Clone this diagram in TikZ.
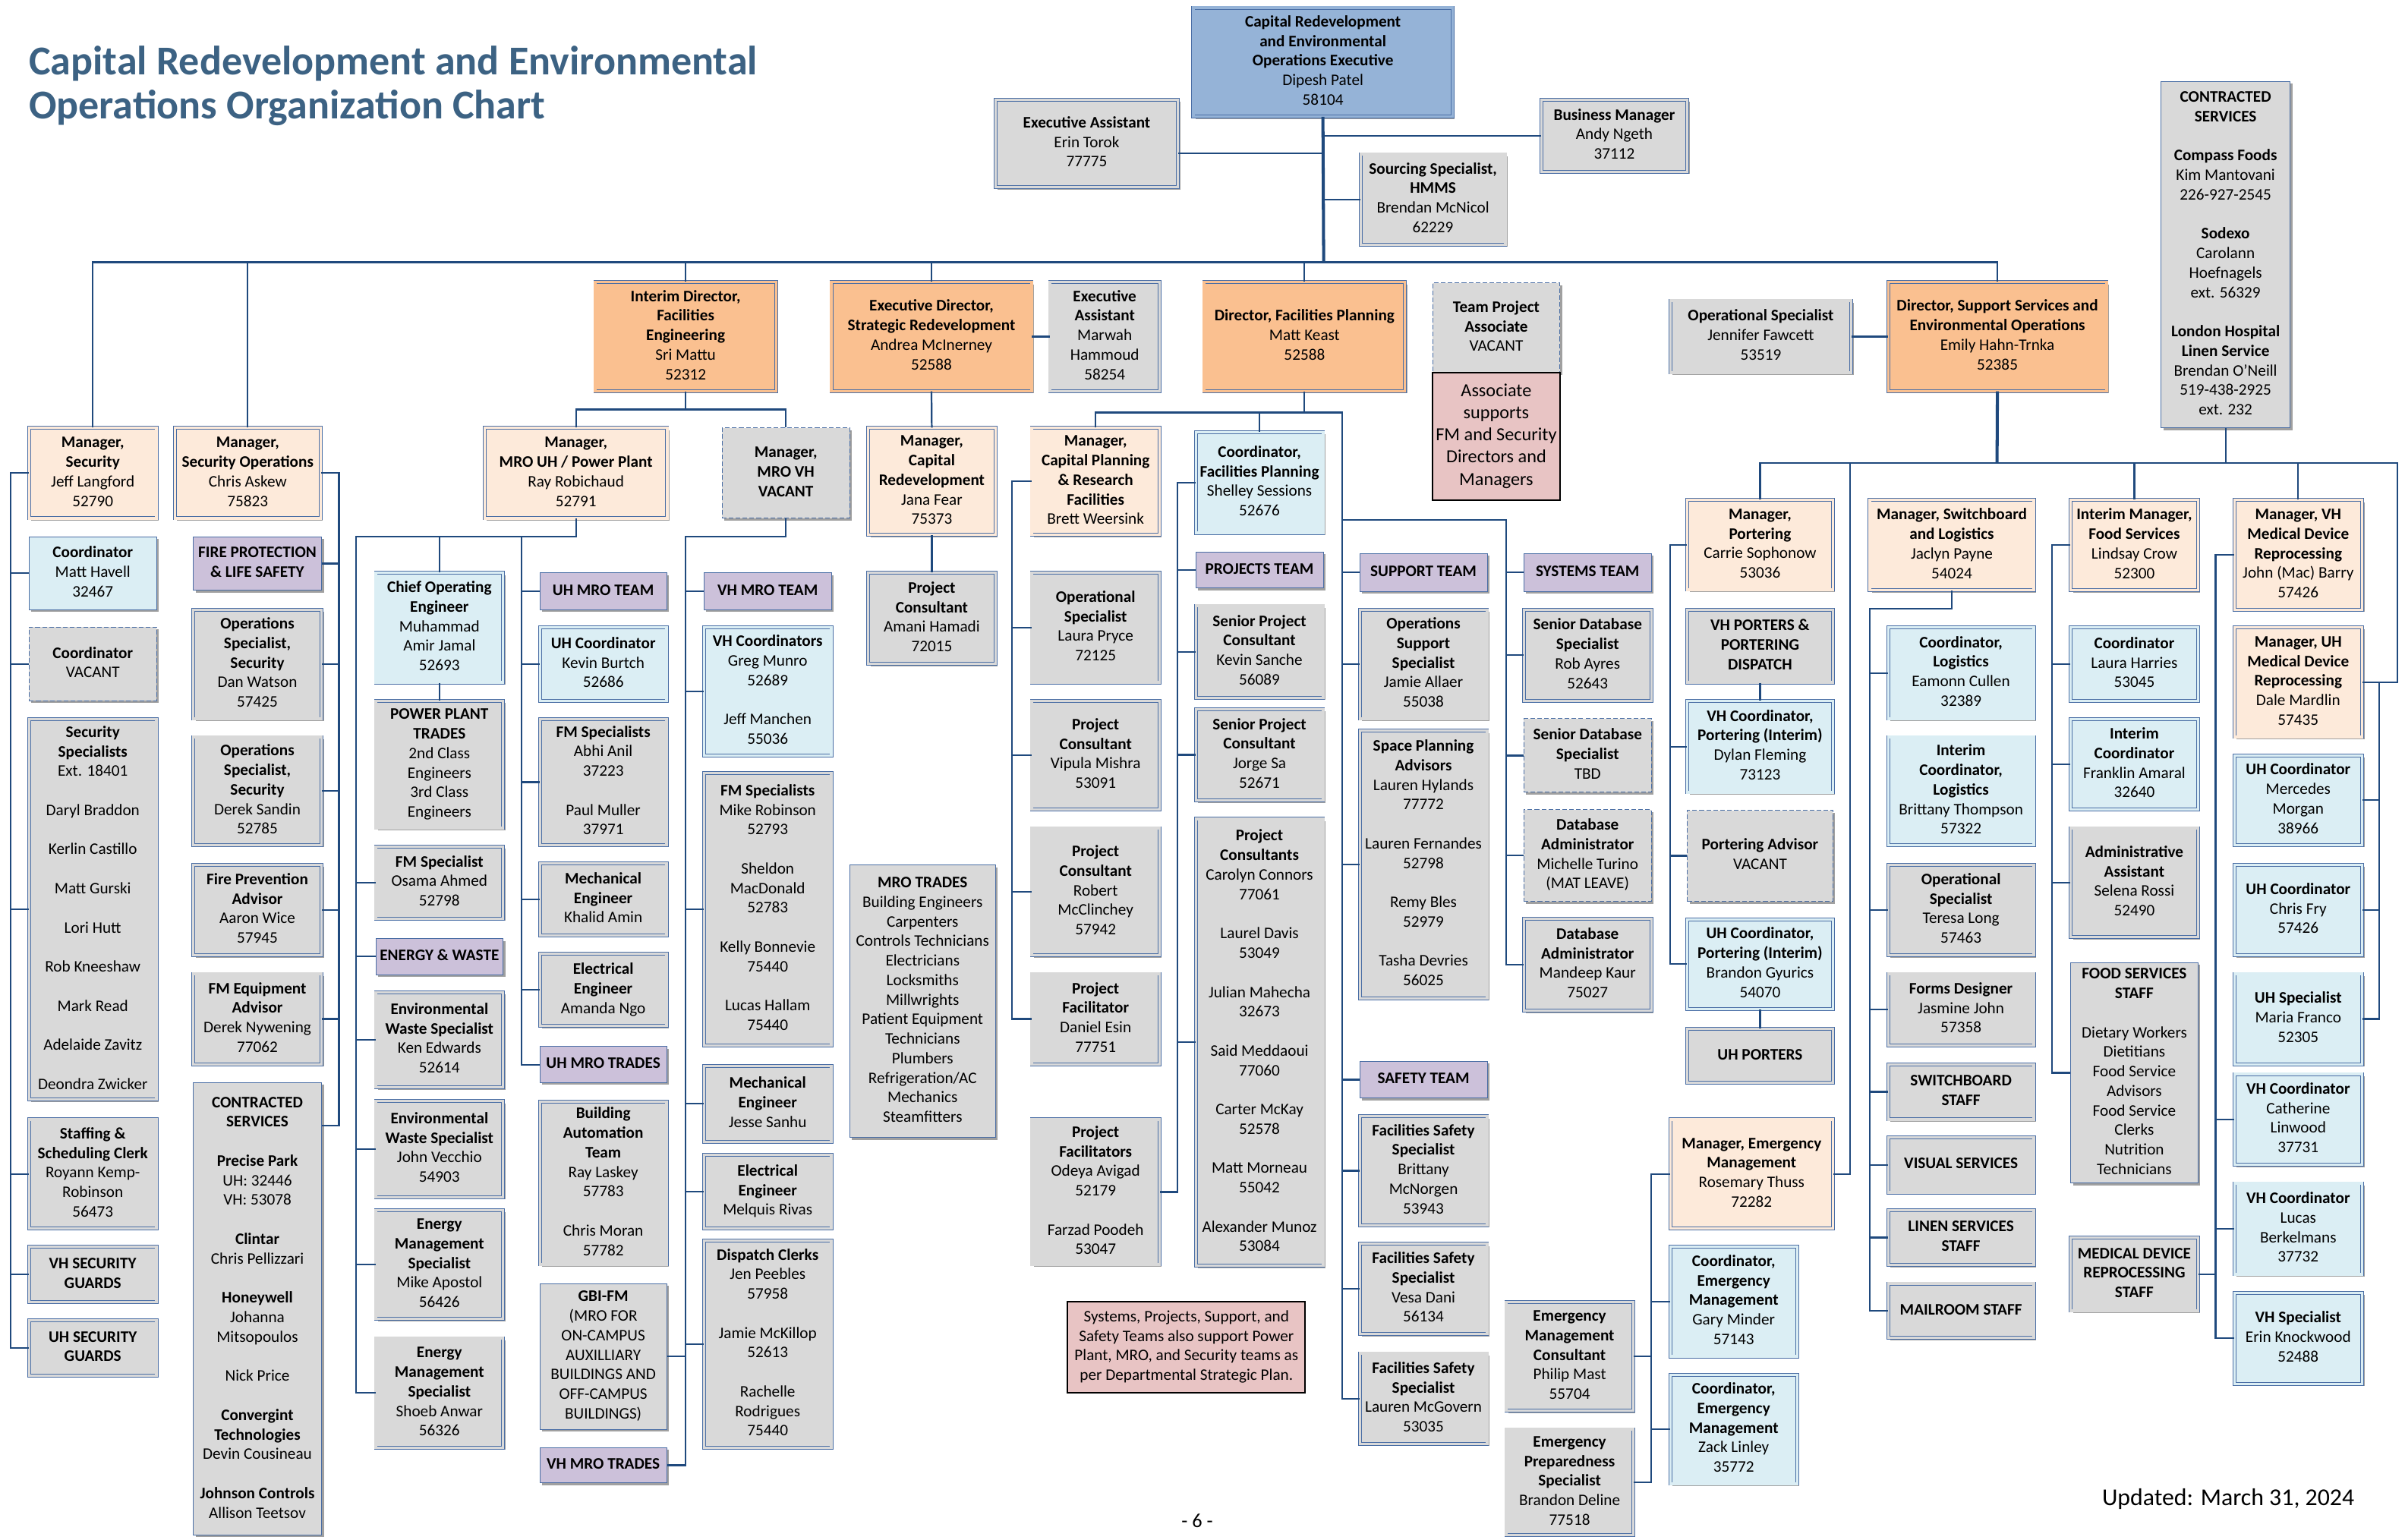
\documentclass[tikz,border=0pt]{standalone}
\usepackage{fontspec}
\setmainfont{Carlito}
\usetikzlibrary{fit,shadows}

\definecolor{linkblue}{RGB}{31,73,125}
\definecolor{boxline}{RGB}{74,110,165}
\definecolor{execblue}{RGB}{149,179,215}
\definecolor{dirorange}{RGB}{250,192,144}
\definecolor{mgrpeach}{RGB}{253,234,218}
\definecolor{ltblue}{RGB}{219,238,244}
\definecolor{boxgray}{RGB}{217,217,217}
\definecolor{teampurple}{RGB}{204,193,218}
\definecolor{notepink}{RGB}{232,196,196}
\definecolor{shadowgray}{RGB}{160,160,160}
\definecolor{titleblue}{RGB}{60,98,131}

\newcommand{\boxfont}{\fontsize{21}{25.5}\selectfont}
\newcommand{\hd}[1]{\textbf{#1}}
\newcommand{\gapln}{\\[25.5pt]}
% box text: centred lines, hung below the baseline
\newcommand{\bx}[1]{\raisebox{-\height}{\begin{tabular}{@{}c@{}}#1\end{tabular}}}

\begin{document}
\begin{tikzpicture}[x=2pt, y=-2pt,
    box/.style={inner sep=0pt, font=\boxfont, draw=boxline, line width=0.8pt,
      drop shadow={shadow xshift=3pt, shadow yshift=-3pt, fill=shadowgray, opacity=1}},
    dbl/.style={fill=#1, double=#1, double distance=3.2pt},
    execbox/.style={box, dbl=execblue},
    dirbox/.style={box, dbl=dirorange},
    mgrbox/.style={box, dbl=mgrpeach},
    blubox/.style={box, dbl=ltblue},
    blubox1/.style={box, fill=ltblue, line width=1pt},
    grybox/.style={box, dbl=boxgray},
    grybox1/.style={box, fill=boxgray, line width=1pt},
    purbox/.style={box, fill=teampurple, line width=1pt},
    vacbox/.style={box, fill=boxgray, line width=1pt, dash pattern=on 6pt off 3pt},
    notebox/.style={inner sep=0pt, font=\boxfont, draw=black, line width=2pt, fill=notepink},
    conn/.style={draw=linkblue, line width=2.2pt},
    trunk/.style={conn, line width=4pt}]

    \useasboundingbox (0,0) rectangle (1568,1004);

    % Title
    \node[anchor=base west, inner sep=0pt, text=titleblue, font=\fontsize{53.5}{58}\selectfont\bfseries] (title1) at (18.8,48.6) {Capital Redevelopment and Environmental};
    \node[anchor=base west, inner sep=0pt, text=titleblue, font=\fontsize{53.5}{58}\selectfont\bfseries] (title2) at (18.8,77.4) {Operations Organization Chart};

    % Executive level
    \node[execbox, fit={(778,5) (947,76)}] (exec) {\bx{\hd{Capital Redevelopment}\\\hd{and Environmental}\\\hd{Operations Executive}\\Dipesh Patel\\58104}};
    \node[grybox, fit={(649,65) (768,122)}] (eatorok) {\bx{\hd{Executive Assistant}\\Erin Torok\\77775}};
    \node[grybox, fit={(1005,65) (1100,112)}] (bizmgr) {\bx{\hd{Business Manager}\\Andy Ngeth\\37112}};
    \node[grybox, fit={(887,100.5) (981.5,159.5)}] (sourcing) {\bx{\hd{Sourcing Specialist,}\\\hd{HMMS}\\Brendan McNicol\\62229}};

    % Directors
    \node[dirbox, fit={(388,184) (506,255)}] (idfe) {\bx{\hd{Interim Director,}\\\hd{Facilities}\\\hd{Engineering}\\Sri Mattu\\52312}};
    \node[dirbox, fit={(542,184) (672.6,255)}] (edsr) {\bx{\hd{Executive Director,}\\\hd{Strategic Redevelopment}\\Andrea McInerney\\52588}};
    \node[grybox, fit={(684.5,184) (756,255)}] (eahammoud) {\bx{\hd{Executive}\\\hd{Assistant}\\Marwah\\Hammoud\\58254}};
    \node[dirbox, fit={(785,184) (916,255)}] (dfp) {\bx{\hd{Director, Facilities Planning}\\Matt Keast\\52588}};
    \node[vacbox, fit={(934,184.5) (1017,243)}] (tpa) {\bx{\hd{Team Project}\\\hd{Associate}\\VACANT}};
    \node[notebox, fit={(934,243) (1017,326)}, font=\fontsize{24}{29}\selectfont] (assoc) {\bx{Associate\\supports\\FM and Security\\Directors and\\Managers}};
    \node[grybox, fit={(1089,196) (1207,243)}] (opspecjf) {\bx{\hd{Operational Specialist}\\Jennifer Fawcett\\53519}};
    \node[dirbox, fit={(1231,184) (1373.5,255)}] (dsseo) {\bx{\hd{Director, Support Services and}\\\hd{Environmental Operations}\\Emily Hahn-Trnka\\52385}};
    \node[grybox1, fit={(1409,53) (1493,279)}] (contrR) {\bx{\hd{CONTRACTED}\\\hd{SERVICES}\gapln\hd{Compass Foods}\\Kim Mantovani\\226-927-2545\gapln\hd{Sodexo}\\Carolann\\Hoefnagels\\ext. 56329\gapln\hd{London Hospital}\\\hd{Linen Service}\\Brendan O’Neill\\519-438-2925\\ext. 232}};

    % Security
    \node[mgrbox, fit={(19,279) (102,338)}] (mgrsec) {\bx{\hd{Manager,}\\\hd{Security}\\Jeff Langford\\52790}};
    \node[blubox1, fit={(19,350) (102,397.5)}] (cmh) {\bx{\hd{Coordinator}\\Matt Havell\\32467}};
    \node[vacbox, fit={(19,409) (102,457)}] (cvac) {\bx{\hd{Coordinator}\\VACANT}};
    \node[grybox, fit={(19,469) (102,717)}] (secspec) {\bx{\hd{Security}\\\hd{Specialists}\\Ext. 18401\gapln Daryl Braddon\gapln Kerlin Castillo\gapln Matt Gurski\gapln Lori Hutt\gapln Rob Kneeshaw\gapln Mark Read\gapln Adelaide Zavitz\gapln Deondra Zwicker}};
    \node[grybox, fit={(19,730) (102,801)}] (staffclerk) {\bx{\hd{Staffing \&}\\\hd{Scheduling Clerk}\\Royann Kemp-\\Robinson\\56473}};
    \node[grybox, fit={(19,813) (102,849)}] (vhguards) {\bx{\hd{VH SECURITY}\\\hd{GUARDS}}};
    \node[grybox, fit={(19,861) (102,897)}] (uhguards) {\bx{\hd{UH SECURITY}\\\hd{GUARDS}}};

    \node[mgrbox, fit={(114,279) (209,338)}] (mgrsecops) {\bx{\hd{Manager,}\\\hd{Security Operations}\\Chris Askew\\75823}};
    \node[purbox, fit={(126,350) (209.6,385)}] (fpls) {\bx{\hd{FIRE PROTECTION}\\\hd{\& LIFE SAFETY}}};
    \node[grybox, fit={(126,397.5) (209.6,468.7)}] (osdw) {\bx{\hd{Operations}\\\hd{Specialist,}\\\hd{Security}\\Dan Watson\\57425}};
    \node[grybox, fit={(126,480.6) (209.6,551)}] (osds) {\bx{\hd{Operations}\\\hd{Specialist,}\\\hd{Security}\\Derek Sandin\\52785}};
    \node[grybox, fit={(126,563.8) (209.6,623)}] (fpa) {\bx{\hd{Fire Prevention}\\\hd{Advisor}\\Aaron Wice\\57945}};
    \node[grybox, fit={(126,635) (209.6,694)}] (fmea) {\bx{\hd{FM Equipment}\\\hd{Advisor}\\Derek Nywening\\77062}};
    \node[grybox1, fit={(126,706) (209.6,1001)}] (contrL) {\bx{\hd{CONTRACTED}\\\hd{SERVICES}\gapln\hd{Precise Park}\\UH: 32446\\VH: 53078\gapln\hd{Clintar}\\Chris Pellizzari\gapln\hd{Honeywell}\\Johanna\\Mitsopoulos\gapln Nick Price\gapln\hd{Convergint}\\\hd{Technologies}\\Devin Cousineau\gapln\hd{Johnson Controls}\\Allison Teetsov}};

    % MRO UH / Power Plant
    \node[mgrbox, fit={(316,279) (435,338)}] (mgrmrouh) {\bx{\hd{Manager,}\\\hd{MRO UH / Power Plant}\\Ray Robichaud\\52791}};
    \node[blubox, fit={(245,373.6) (328,445)}] (coe) {\bx{\hd{Chief Operating}\\\hd{Engineer}\\Muhammad\\Amir Jamal\\52693}};
    \node[grybox, fit={(245,457) (328,540)}] (ppt) {\bx{\hd{POWER PLANT}\\\hd{TRADES}\\2nd Class\\Engineers\\3rd Class\\Engineers}};
    \node[grybox, fit={(245,552) (328,599)}] (fmsosama) {\bx{\hd{FM Specialist}\\Osama Ahmed\\52798}};
    \node[purbox, fit={(245,612) (328,635.6)}] (energy) {\bx{\hd{ENERGY \& WASTE}}};
    \node[grybox, fit={(245,647) (328,709)}] (ewske) {\bx{\hd{Environmental}\\\hd{Waste Specialist}\\Ken Edwards\\52614}};
    \node[grybox, fit={(245,718) (328,780.6)}] (ewsjv) {\bx{\hd{Environmental}\\\hd{Waste Specialist}\\John Vecchio\\54903}};
    \node[grybox, fit={(245,789) (328,860)}] (emsma) {\bx{\hd{Energy}\\\hd{Management}\\\hd{Specialist}\\Mike Apostol\\56426}};
    \node[grybox, fit={(245,872.6) (328,944)}] (emssa) {\bx{\hd{Energy}\\\hd{Management}\\\hd{Specialist}\\Shoeb Anwar\\56326}};

    \node[purbox, fit={(352,373.6) (434.6,397.5)}] (uhmroteam) {\bx{\hd{UH MRO TEAM}}};
    \node[blubox, fit={(352,409) (434.6,457)}] (uhcoord) {\bx{\hd{UH Coordinator}\\Kevin Burtch\\52686}};
    \node[grybox, fit={(352,469) (434.6,551)}] (fmsuh) {\bx{\hd{FM Specialists}\\Abhi Anil\\37223\gapln Paul Muller\\37971}};
    \node[grybox, fit={(352,563) (434.6,610)}] (mechkh) {\bx{\hd{Mechanical}\\\hd{Engineer}\\Khalid Amin}};
    \node[grybox, fit={(352,622) (434.6,669)}] (elecan) {\bx{\hd{Electrical}\\\hd{Engineer}\\Amanda Ngo}};
    \node[purbox, fit={(352,682.5) (434.6,706)}] (uhtrades) {\bx{\hd{UH MRO TRADES}}};
    \node[grybox, fit={(352,718.5) (434.6,824.6)}] (bat) {\bx{\hd{Building}\\\hd{Automation}\\\hd{Team}\\Ray Laskey\\57783\gapln Chris Moran\\57782}};
    \node[grybox1, fit={(352,837) (434.6,932)}] (gbifm) {\bx{\hd{GBI-FM}\\(MRO FOR\\ON-CAMPUS\\AUXILLIARY\\BUILDINGS AND\\OFF-CAMPUS\\BUILDINGS)}};
    \node[purbox, fit={(352,944) (434.6,967)}] (vhtrades) {\bx{\hd{VH MRO TRADES}}};

    % MRO VH
    \node[vacbox, fit={(470.7,279) (554,338)}] (mgrmrovh) {\bx{\hd{Manager,}\\\hd{MRO VH}\\\hd{VACANT}}};
    \node[purbox, fit={(459,373.6) (542,397.5)}] (vhmroteam) {\bx{\hd{VH MRO TEAM}}};
    \node[blubox, fit={(459,409) (542,492.6)}] (vhcoords) {\bx{\hd{VH Coordinators}\\Greg Munro\\52689\gapln Jeff Manchen\\55036}};
    \node[grybox, fit={(459,504) (542,681.6)}] (fmsvh) {\bx{\hd{FM Specialists}\\Mike Robinson\\52793\gapln Sheldon\\MacDonald\\52783\gapln Kelly Bonnevie\\75440\gapln Lucas Hallam\\75440}};
    \node[grybox, fit={(459,695) (542,744.6)}] (mechjs) {\bx{\hd{Mechanical}\\\hd{Engineer}\\Jesse Sanhu}};
    \node[grybox, fit={(459,753) (542,801)}] (elecmr) {\bx{\hd{Electrical}\\\hd{Engineer}\\Melquis Rivas}};
    \node[grybox, fit={(459,809) (542,944)}] (dispatch) {\bx{\hd{Dispatch Clerks}\\Jen Peebles\\57958\gapln Jamie McKillop\\52613\gapln Rachelle\\Rodrigues\\75440}};

    % Strategic Redevelopment
    \node[mgrbox, fit={(566,279) (649,348.7)}] (mgrcapred) {\bx{\hd{Manager,}\\\hd{Capital}\\\hd{Redevelopment}\\Jana Fear\\75373}};
    \node[grybox, fit={(566,373.6) (649,433)}] (pcah) {\bx{\hd{Project}\\\hd{Consultant}\\Amani Hamadi\\72015}};
    \node[grybox1, fit={(554,564) (649,741.7)}] (mrotrades) {\bx{\hd{MRO TRADES}\\Building Engineers\\Carpenters\\Controls Technicians\\Electricians\\Locksmiths\\Millwrights\\Patient Equipment\\Technicians\\Plumbers\\Refrigeration/AC\\Mechanics\\Steamfitters}};

    % Facilities Planning
    \node[mgrbox, fit={(672.6,279) (756,348.7)}] (mgrcprf) {\bx{\hd{Manager,}\\\hd{Capital Planning}\\\hd{\& Research}\\\hd{Facilities}\\Brett Weersink}};
    \node[grybox, fit={(672.6,373.6) (756,445)}] (oslp) {\bx{\hd{Operational}\\\hd{Specialist}\\Laura Pryce\\72125}};
    \node[grybox, fit={(672.6,457) (756,527.8)}] (pcvm) {\bx{\hd{Project}\\\hd{Consultant}\\Vipula Mishra\\53091}};
    \node[grybox, fit={(672.6,540) (756,623)}] (pcrm) {\bx{\hd{Project}\\\hd{Consultant}\\Robert\\McClinchey\\57942}};
    \node[grybox, fit={(672.6,635) (756,694)}] (pfde) {\bx{\hd{Project}\\\hd{Facilitator}\\Daniel Esin\\77751}};
    \node[grybox, fit={(672.6,730) (756,824.6)}] (pfs) {\bx{\hd{Project}\\\hd{Facilitators}\\Odeya Avigad\\52179\gapln Farzad Poodeh\\53047}};

    \node[blubox, fit={(779.6,281.8) (862.7,347.5)}] (coordfp) {\bx{\hd{Coordinator,}\\\hd{Facilities Planning}\\Shelley Sessions\\52676}};
    \node[purbox, fit={(779.6,360) (862.7,383.4)}] (projteam) {\bx{\hd{PROJECTS TEAM}}};
    \node[grybox, fit={(779.6,395) (862.7,455)}] (spcks) {\bx{\hd{Senior Project}\\\hd{Consultant}\\Kevin Sanche\\56089}};
    \node[grybox, fit={(779.6,462.5) (862.7,522)}] (spcjs) {\bx{\hd{Senior Project}\\\hd{Consultant}\\Jorge Sa\\52671}};
    \node[grybox, fit={(779.6,534) (862.7,825.4)}] (pcs) {\bx{\hd{Project}\\\hd{Consultants}\\Carolyn Connors\\77061\gapln Laurel Davis\\53049\gapln Julian Mahecha\\32673\gapln Said Meddaoui\\77060\gapln Carter McKay\\52578\gapln Matt Morneau\\55042\gapln Alexander Munoz\\53084}};

    \node[purbox, fit={(886.5,361) (969.6,385.6)}] (supteam) {\bx{\hd{SUPPORT TEAM}}};
    \node[grybox, fit={(886.5,397.5) (969.6,468.7)}] (ossja) {\bx{\hd{Operations}\\\hd{Support}\\\hd{Specialist}\\Jamie Allaer\\55038}};
    \node[grybox, fit={(886.5,476.5) (969.6,651)}] (spa) {\bx{\hd{Space Planning}\\\hd{Advisors}\\Lauren Hylands\\77772\gapln Lauren Fernandes\\52798\gapln Remy Bles\\52979\gapln Tasha Devries\\56025}};
    \node[purbox, fit={(886.5,692) (969.6,716)}] (safteam) {\bx{\hd{SAFETY TEAM}}};
    \node[grybox, fit={(886.5,728) (969.6,799)}] (fssbm) {\bx{\hd{Facilities Safety}\\\hd{Specialist}\\Brittany\\McNorgen\\53943}};
    \node[grybox, fit={(886.5,811) (969.6,870)}] (fssvd) {\bx{\hd{Facilities Safety}\\\hd{Specialist}\\Vesa Dani\\56134}};
    \node[grybox, fit={(886.5,882.5) (969.6,941.6)}] (fsslm) {\bx{\hd{Facilities Safety}\\\hd{Specialist}\\Lauren McGovern\\53035}};

    \node[purbox, fit={(993.5,361) (1076.6,385.6)}] (systeam) {\bx{\hd{SYSTEMS TEAM}}};
    \node[grybox, fit={(993.5,397.5) (1076.6,457)}] (sdsra) {\bx{\hd{Senior Database}\\\hd{Specialist}\\Rob Ayres\\52643}};
    \node[vacbox, fit={(993.5,468.7) (1076.6,516.7)}] (sdstbd) {\bx{\hd{Senior Database}\\\hd{Specialist}\\TBD}};
    \node[vacbox, fit={(993.5,528) (1076.6,587.8)}] (dbamt) {\bx{\hd{Database}\\\hd{Administrator}\\Michelle Turino\\(MAT LEAVE)}};
    \node[grybox, fit={(993.5,599) (1076.6,659)}] (dbamk) {\bx{\hd{Database}\\\hd{Administrator}\\Mandeep Kaur\\75027}};

    \node[notebox, fit={(696,849) (851,908)}] (note) {\bx{Systems, Projects, Support, and\\Safety Teams also support Power\\Plant, MRO, and Security teams as\\per Departmental Strategic Plan.}};

    % Support Services
    \node[mgrbox, fit={(1100,326) (1195,384.6)}] (mgrport) {\bx{\hd{Manager,}\\\hd{Portering}\\Carrie Sophonow\\53036}};
    \node[grybox, fit={(1100,397.5) (1195,445)}] (vhporters) {\bx{\hd{VH PORTERS \&}\\\hd{PORTERING}\\\hd{DISPATCH}}};
    \node[blubox, fit={(1100,457) (1195,516.7)}] (vhcoordport) {\bx{\hd{VH Coordinator,}\\\hd{Portering (Interim)}\\Dylan Fleming\\73123}};
    \node[vacbox, fit={(1100,528.4) (1195,587.8)}] (portadv) {\bx{\hd{Portering Advisor}\\VACANT}};
    \node[blubox, fit={(1100,599.5) (1195,658)}] (uhcoordport) {\bx{\hd{UH Coordinator,}\\\hd{Portering (Interim)}\\Brandon Gyurics\\54070}};
    \node[grybox, fit={(1100,671) (1195,706)}] (uhporters) {\bx{\hd{UH PORTERS}}};

    \node[mgrbox, fit={(1089,730) (1195,801)}] (mgrem) {\bx{\hd{Manager, Emergency}\\\hd{Management}\\Rosemary Thuss\\72282}};
    \node[blubox, fit={(1089,813) (1171.6,884.5)}] (cemgm) {\bx{\hd{Coordinator,}\\\hd{Emergency}\\\hd{Management}\\Gary Minder\\57143}};
    \node[blubox, fit={(1089,896.4) (1171.6,967.6)}] (cemzl) {\bx{\hd{Coordinator,}\\\hd{Emergency}\\\hd{Management}\\Zack Linley\\35772}};
    \node[grybox, fit={(982,849) (1064.7,920)}] (emc) {\bx{\hd{Emergency}\\\hd{Management}\\\hd{Consultant}\\Philip Mast\\55704}};
    \node[grybox, fit={(982,932) (1064.7,1001)}] (eps) {\bx{\hd{Emergency}\\\hd{Preparedness}\\\hd{Specialist}\\Brandon Deline\\77518}};

    \node[mgrbox, fit={(1219,326) (1326,385)}] (mgrsw) {\bx{\hd{Manager, Switchboard}\\\hd{and Logistics}\\Jaclyn Payne\\54024}};
    \node[blubox, fit={(1231,409) (1326,468.7)}] (clec) {\bx{\hd{Coordinator,}\\\hd{Logistics}\\Eamonn Cullen\\32389}};
    \node[blubox, fit={(1231,480.6) (1326,551)}] (iclbt) {\bx{\hd{Interim}\\\hd{Coordinator,}\\\hd{Logistics}\\Brittany Thompson\\57322}};
    \node[grybox, fit={(1231,563.8) (1326,623)}] (ostl) {\bx{\hd{Operational}\\\hd{Specialist}\\Teresa Long\\57463}};
    \node[grybox, fit={(1231,635) (1326,681.6)}] (fdjj) {\bx{\hd{Forms Designer}\\Jasmine John\\57358}};
    \node[grybox, fit={(1231,694) (1326,730)}] (swstaff) {\bx{\hd{SWITCHBOARD}\\\hd{STAFF}}};
    \node[grybox, fit={(1231,741.7) (1326,777.6)}] (visual) {\bx{\hd{VISUAL SERVICES}}};
    \node[grybox, fit={(1231,789) (1326,825)}] (linen) {\bx{\hd{LINEN SERVICES}\\\hd{STAFF}}};
    \node[grybox, fit={(1231,837) (1326,872.4)}] (mailroom) {\bx{\hd{MAILROOM STAFF}}};

    \node[mgrbox, fit={(1350,326) (1433,385)}] (mgrfood) {\bx{\hd{Interim Manager,}\\\hd{Food Services}\\Lindsay Crow\\52300}};
    \node[blubox, fit={(1350,409) (1433,457)}] (clh) {\bx{\hd{Coordinator}\\Laura Harries\\53045}};
    \node[blubox, fit={(1350,469) (1433,527.8)}] (icfa) {\bx{\hd{Interim}\\\hd{Coordinator}\\Franklin Amaral\\32640}};
    \node[grybox, fit={(1350,540) (1433,611)}] (aasr) {\bx{\hd{Administrative}\\\hd{Assistant}\\Selena Rossi\\52490}};
    \node[grybox1, fit={(1350,627.6) (1433,771.6)}] (foodstaff) {\bx{\hd{FOOD SERVICES}\\\hd{STAFF}\gapln Dietary Workers\\Dietitians\\Food Service\\Advisors\\Food Service\\Clerks\\Nutrition\\Technicians}};
    \node[grybox, fit={(1350,807) (1433,854.8)}] (mdrstaff) {\bx{\hd{MEDICAL DEVICE}\\\hd{REPROCESSING}\\\hd{STAFF}}};

    \node[mgrbox, fit={(1456.7,326) (1540,397.5)}] (mgrvhmdr) {\bx{\hd{Manager, VH}\\\hd{Medical Device}\\\hd{Reprocessing}\\John (Mac) Barry\\57426}};
    \node[mgrbox, fit={(1456.7,409) (1540,480.6)}] (mgruhmdr) {\bx{\hd{Manager, UH}\\\hd{Medical Device}\\\hd{Reprocessing}\\Dale Mardlin\\57435}};
    \node[blubox, fit={(1456.7,492.6) (1540,551)}] (uhcmm) {\bx{\hd{UH Coordinator}\\Mercedes\\Morgan\\38966}};
    \node[blubox, fit={(1456.7,563.8) (1540,623)}] (uhccf) {\bx{\hd{UH Coordinator}\\Chris Fry\\57426}};
    \node[blubox, fit={(1456.7,635) (1540,694)}] (uhsmf) {\bx{\hd{UH Specialist}\\Maria Franco\\52305}};
    \node[blubox, fit={(1456.7,700.4) (1540,759.6)}] (vhccl) {\bx{\hd{VH Coordinator}\\Catherine\\Linwood\\37731}};
    \node[blubox, fit={(1456.7,771.6) (1540,831)}] (vhclb) {\bx{\hd{VH Coordinator}\\Lucas\\Berkelmans\\37732}};
    \node[blubox, fit={(1456.7,843) (1540,902.4)}] (vhsek) {\bx{\hd{VH Specialist}\\Erin Knockwood\\52488}};

    % Footer
    \node[anchor=base, inner sep=0pt, font=\fontsize{26}{30}\selectfont] (pagenum) at (780.5,996) {- 6 -};
    \node[anchor=base east, inner sep=0pt, font=\fontsize{31.5}{36}\selectfont] (updated) at (1535,981.5) {Updated: March 31, 2024};

    % Edges: top level
    \coordinate (bus) at (863,171);
    \coordinate (eaj) at (863,100);
    \draw[trunk] (exec.south) -- (bus);
    \foreach \n in {mgrsec,mgrsecops,idfe,edsr,dfp,dsseo}
        \draw[conn] (\n.north) |- (bus);
    \draw[conn] (eatorok.east |- eaj) -- (eaj);
    \draw[conn] (bizmgr.west) -- (bizmgr.west -| bus);
    \draw[conn] (sourcing.west) -- (sourcing.west -| bus);
    \draw[conn] (edsr.east) -- (eahammoud.west);
    \draw[conn] (opspecjf.east) -- (dsseo.west);

    % Edges: security
    \draw[conn] (mgrsec.west) -- ++(-12,0) |- (uhguards.west);
    \foreach \n in {cmh,cvac,secspec,staffclerk,vhguards}
        \draw[conn] (\n.west) -- ++(-12,0);
    \coordinate (clj) at (221,734);
    \draw[conn] (mgrsecops.east) -| (clj) -- (clj -| contrL.east);
    \foreach \n in {fpls,osdw,osds,fpa,fmea}
        \draw[conn] (\n.east) -- ++(11.4,0);

    % Edges: facilities engineering
    \coordinate (idfej) at (447,267);
    \draw[conn] (idfe.south) -- (idfej);
    \draw[conn] (mgrmrouh.north) |- (idfej);
    \draw[conn] (mgrmrovh.north) |- (idfej);
    \coordinate (uhj) at (375.5,350);
    \coordinate (ewspine) at (232,350);
    \coordinate (uhspine) at (340,350);
    \draw[conn] (mgrmrouh.south) -- (uhj) -- (ewspine) |- (emssa.west);
    \draw[conn] (coe.north) |- (uhj);
    \draw[conn] (coe.south) -- (ppt.north);
    \foreach \n in {fmsosama,energy,ewske,ewsjv,emsma}
        \draw[conn] (\n.west) -- ++(-13,0);
    \draw[conn] (uhspine) |- (uhtrades.west);
    \foreach \n in {uhmroteam,uhcoord,fmsuh,mechkh,elecan}
        \draw[conn] (\n.west) -- ++(-12,0);
    \coordinate (vhspine) at (447,350);
    \draw[conn] (mgrmrovh.south) |- (vhspine) |- (vhtrades.east);
    \foreach \n in {vhmroteam,vhcoords,fmsvh,mechjs,elecmr,dispatch}
        \draw[conn] (\n.west) -- ++(-12,0);
    \draw[conn] (gbifm.east) -- ++(12.4,0);

    % Edges: strategic redevelopment
    \draw[conn] (edsr.south) -- (mgrcapred.north);
    \draw[conn] (mgrcapred.south) -- (pcah.north);

    % Edges: facilities planning
    \coordinate (dfpj) at (850.5,269);
    \coordinate (supspine) at (875,269);
    \coordinate (sysj) at (875,339);
    \coordinate (sysspine) at (982,339);
    \draw[conn] (dfp.south) -- (dfpj);
    \draw[conn] (mgrcprf.north) |- (dfpj);
    \draw[conn] (coordfp.north) |- (dfpj);
    \draw[conn] (dfpj) -- (supspine) |- (fsslm.west);
    \draw[conn] (sysj) -- (sysspine) |- (dbamk.west);
    \foreach \n in {supteam,ossja,spa,safteam,fssbm,fssvd}
        \draw[conn] (\n.west) -- ++(-11.5,0);
    \foreach \n in {systeam,sdsra,sdstbd,dbamt}
        \draw[conn] (\n.west) -- ++(-11.5,0);
    \draw[conn] (mgrcprf.west) -- ++(-12.6,0) |- (pfde.west);
    \foreach \n in {oslp,pcvm,pcrm}
        \draw[conn] (\n.west) -- ++(-12.6,0);
    \draw[conn] (coordfp.west) -- ++(-11.9,0) |- (pfs.east);
    \foreach \n in {projteam,spcks,spcjs,pcs}
        \draw[conn] (\n.west) -- ++(-11.9,0);

    % Edges: support services
    \coordinate (ssbus) at (1302,302);
    \coordinate (emdrop) at (1206,302);
    \coordinate (mdrdrop) at (1563,302);
    \draw[trunk] (dsseo.south) -- (ssbus);
    \foreach \n in {mgrport,mgrfood,mgrvhmdr}
        \draw[conn] (\n.north) |- (ssbus);
    \draw[conn] (contrR.south) |- (ssbus);
    \draw[conn] (ssbus) -- (emdrop) |- (mgrem.east);
    \draw[conn] (ssbus) -- (mdrdrop) |- (mgruhmdr.east);

    \draw[conn] (mgrport.west) -- ++(-11,0) |- (uhcoordport.west);
    \foreach \n in {vhcoordport,portadv}
        \draw[conn] (\n.west) -- ++(-11,0);
    \draw[conn] (vhporters.south) -- (vhcoordport.north);
    \draw[conn] (uhcoordport.south) -- (uhporters.north);

    \draw[conn] (mgrem.west) -- ++(-12.4,0) |- (eps.east);
    \foreach \n in {cemgm,cemzl}
        \draw[conn] (\n.west) -- ++(-12.4,0);
    \draw[conn] (emc.east) -- ++(11.9,0);

    \coordinate (swspine) at (1219,397);
    \draw[conn] (mgrsw.south) |- (swspine) |- (mailroom.west);
    \foreach \n in {clec,ostl,fdjj,swstaff,visual,linen}
        \draw[conn] (\n.west) -- ++(-12,0);

    \draw[conn] (mgrfood.west) -- ++(-12,0) |- (foodstaff.west);
    \foreach \n in {clh,icfa,aasr}
        \draw[conn] (\n.west) -- ++(-12,0);

    \draw[conn] (mgrvhmdr.west) -- ++(-12,0) |- (vhsek.west);
    \foreach \n in {vhccl,vhclb}
        \draw[conn] (\n.west) -- ++(-12,0);
    \draw[conn] (mdrstaff.east) -- ++(11.7,0);
    \draw[conn] (mgruhmdr.east) -- ++(10.8,0) |- (uhsmf.east);
    \foreach \n in {uhcmm,uhccf}
        \draw[conn] (\n.east) -- ++(10.8,0);

\end{tikzpicture}
\end{document}
